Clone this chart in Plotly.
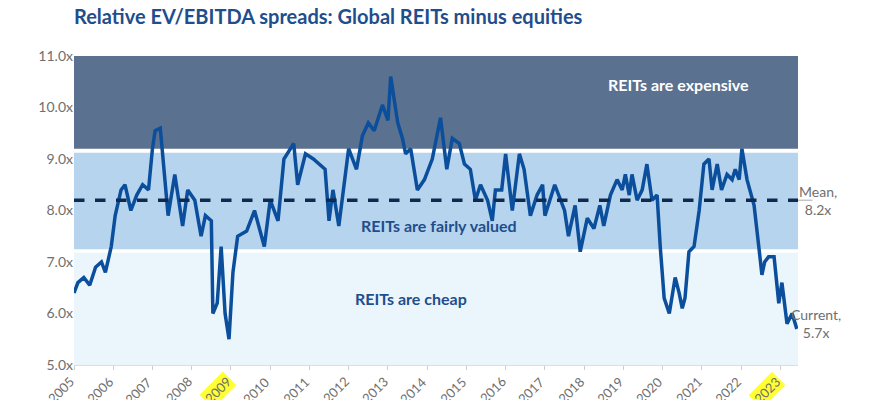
import pandas as pd
import plotly.graph_objects as go

# decimal year -> spread value
years = [2005.0, 2005.1, 2005.25, 2005.4, 2005.55, 2005.7, 2005.8, 2005.95, 2006.05, 2006.2,
         2006.3, 2006.45, 2006.6, 2006.75, 2006.9, 2007.0, 2007.07, 2007.2, 2007.4, 2007.57,
         2007.77, 2007.9, 2008.08, 2008.24, 2008.35, 2008.5, 2008.54, 2008.65, 2008.75, 2008.85,
         2008.95, 2009.05, 2009.17, 2009.4, 2009.6, 2009.85, 2010.0, 2010.2, 2010.35, 2010.6,
         2010.7, 2010.9, 2011.1, 2011.25, 2011.4, 2011.5, 2011.6, 2011.75, 2012.0, 2012.2,
         2012.35, 2012.5, 2012.65, 2012.86, 2013.0, 2013.07, 2013.25, 2013.37, 2013.45, 2013.58,
         2013.75, 2013.93, 2014.13, 2014.34, 2014.5, 2014.64, 2014.82, 2014.95, 2015.1, 2015.23,
         2015.36, 2015.54, 2015.66, 2015.74, 2015.9, 2016.0, 2016.17, 2016.35, 2016.47, 2016.63,
         2016.8, 2016.94, 2017.0, 2017.25, 2017.5, 2017.6, 2017.77, 2017.9, 2018.08, 2018.25,
         2018.4, 2018.5, 2018.67, 2018.84, 2018.97, 2019.05, 2019.15, 2019.22, 2019.35, 2019.48,
         2019.6, 2019.73, 2019.86, 2019.94, 2020.04, 2020.17, 2020.32, 2020.42, 2020.5, 2020.57,
         2020.67, 2020.8, 2020.93, 2021.05, 2021.18, 2021.26, 2021.39, 2021.5, 2021.64, 2021.77,
         2021.85, 2021.95, 2022.02, 2022.15, 2022.33, 2022.45, 2022.53, 2022.6, 2022.7, 2022.84,
         2022.96, 2023.04, 2023.17, 2023.3, 2023.42]
spread = [6.4, 6.6, 6.7, 6.55, 6.9, 7.0, 6.8, 7.3, 7.9, 8.4,
          8.5, 8.0, 8.3, 8.5, 8.4, 9.2, 9.55, 9.6, 7.9, 8.7,
          7.7, 8.4, 8.2, 7.5, 7.9, 7.8, 6.0, 6.2, 7.3, 6.0,
          5.5, 6.8, 7.5, 7.6, 8.0, 7.3, 8.2, 7.8, 9.0, 9.3,
          8.5, 9.1, 9.0, 8.9, 8.8, 7.8, 8.4, 7.7, 9.2, 8.8,
          9.45, 9.7, 9.55, 10.05, 9.75, 10.6, 9.7, 9.4, 9.1, 9.2,
          8.4, 8.6, 9.0, 9.8, 8.8, 9.4, 9.3, 8.9, 8.8, 8.2,
          8.5, 8.2, 7.8, 8.4, 8.4, 9.1, 8.0, 9.1, 8.8, 7.9,
          8.3, 8.5, 7.9, 8.5, 8.0, 7.5, 8.1, 7.2, 7.85, 7.65,
          8.1, 7.7, 8.3, 8.6, 8.4, 8.7, 8.3, 8.7, 8.2, 8.4,
          8.9, 8.2, 8.3, 7.3, 6.3, 6.0, 6.7, 6.4, 6.1, 6.3,
          7.2, 7.3, 8.0, 8.9, 9.0, 8.4, 8.9, 8.4, 8.7, 8.6,
          8.8, 8.6, 9.2, 8.6, 8.1, 7.3, 6.75, 7.0, 7.1, 7.1,
          6.2, 6.6, 5.8, 6.0, 5.7]
tick_years = list(range(2005, 2024))
highlight_years = [2009, 2023]
mean_val = 8.2
current_val = 5.7


def to_date(y):
    yr = int(y)
    start = pd.Timestamp(f"{yr}-01-01")
    return start + (pd.Timestamp(f"{yr + 1}-01-01") - start) * (y - yr)


dates = [to_date(y) for y in years]
navy = "#0b4f9c"
title_blue = "#1f4e8c"
grey = "#6f6f6f"

fig = go.Figure()
fig.add_trace(go.Scatter(x=dates, y=spread, mode="lines",
                         line=dict(color=navy, width=3.5), hoverinfo="skip"))

# valuation bands
bands = [(9.2, 11.0, "#5b7190"), (7.25, 9.12, "#b6d4ee"), (5.0, 7.18, "#ebf5fc")]
for y0, y1, col in bands:
    fig.add_shape(type="rect", xref="paper", yref="y", x0=0, x1=1, y0=y0, y1=y1,
                  fillcolor=col, line_width=0, layer="below")

fig.add_shape(type="line", xref="paper", yref="y", x0=0, x1=1.0, y0=mean_val, y1=mean_val,
              line=dict(color="#0e2a4f", width=3.5, dash="dash"))
fig.add_shape(type="line", xref="paper", yref="y", x0=1.0, x1=1.02, y0=mean_val, y1=mean_val,
              line=dict(color="#aaaaaa", width=1))

font = "Lato"
fig.add_annotation(x=to_date(2020.4), y=10.45, text="<b>REITs are expensive</b>", showarrow=False,
                   font=dict(family=font, size=16, color="white"))
fig.add_annotation(x=to_date(2014.3), y=7.7, text="<b>REITs are fairly valued</b>", showarrow=False,
                   font=dict(family=font, size=16, color=title_blue))
fig.add_annotation(x=to_date(2013.6), y=6.3, text="<b>REITs are cheap</b>", showarrow=False,
                   font=dict(family=font, size=16, color=title_blue))
fig.add_annotation(xref="paper", x=1.056, y=mean_val, text=f"Mean,<br>{mean_val}x", showarrow=False,
                   align="center", font=dict(family=font, size=14, color=grey))
fig.add_annotation(xref="paper", x=1.062, y=current_val + 0.1, text=f"Current,<br>{current_val}x",
                   showarrow=False, align="center", font=dict(family=font, size=14, color=grey))

# year labels, rotated, some highlighted
for yr in tick_years:
    fig.add_annotation(x=to_date(yr), y=0, yref="paper", yanchor="top", xanchor="right",
                       yshift=-6, xshift=6, text=str(yr), showarrow=False, textangle=-45,
                       bgcolor="#ffff33" if yr in highlight_years else None,
                       font=dict(family=font, size=13, color=grey))

fig.update_layout(
    width=870, height=400, showlegend=False,
    paper_bgcolor="white", plot_bgcolor="white",
    margin=dict(l=66, r=80, t=48, b=43),
    title=dict(text="<b>Relative EV/EBITDA spreads: Global REITs minus equities</b>",
               x=0.0, xref="paper", xanchor="left", y=0.995, yanchor="top",
               font=dict(family=font, size=20, color=title_blue)),
    xaxis=dict(range=[to_date(2005.0), to_date(2023.45)], showticklabels=False,
               showgrid=False, ticks="outside", ticklen=4, tickcolor="#cccccc",
               tickvals=[to_date(y) for y in tick_years], showline=True, linecolor="#dddddd"),
    yaxis=dict(range=[5.0, 11.0], tickvals=[5, 6, 7, 8, 9, 10, 11],
               ticktext=[f"{v:.1f}x" for v in [5, 6, 7, 8, 9, 10, 11]],
               showgrid=False, zeroline=False, tickfont=dict(family=font, size=14, color=grey)),
)

fig.write_html("out.html")
